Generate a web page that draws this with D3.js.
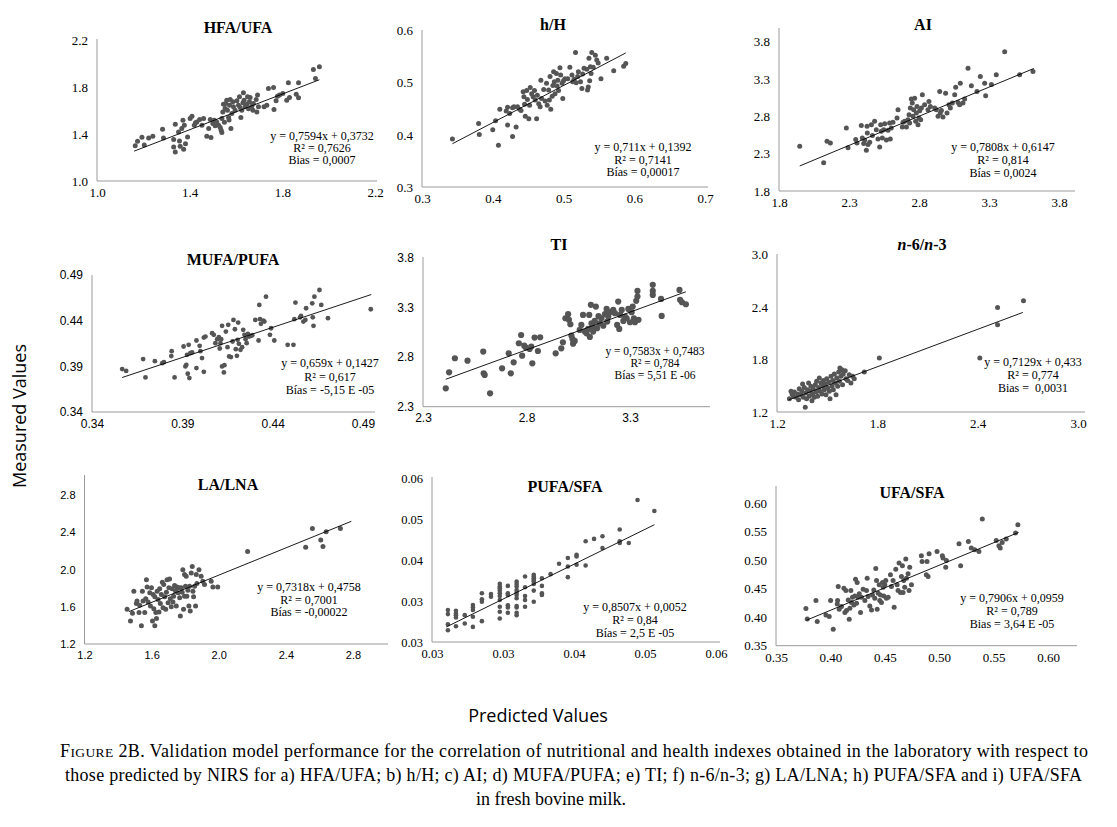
<!DOCTYPE html>
<html>
<head>
<meta charset="utf-8">
<script src="https://cdn.jsdelivr.net/npm/d3@7"></script>
<style>
  body { margin: 0; background: #fff; }
  text { fill: #000; }
</style>
</head>
<body>
<svg id="chart" width="1117" height="827"></svg>
<script>
// ---- data: [predicted, measured] ----
const hfaUfa = [[1.165,1.299],[1.175,1.338],[1.194,1.372],[1.204,1.307],[1.223,1.367],[1.241,1.381],[1.283,1.441],[1.287,1.367],
  [1.331,1.353],[1.331,1.29],[1.338,1.483],[1.338,1.247],[1.352,1.418],[1.356,1.341],[1.359,1.296],[1.366,1.446],[1.371,1.517],
  [1.374,1.27],[1.377,1.475],[1.382,1.318],[1.391,1.375],[1.402,1.532],[1.41,1.552],[1.42,1.475],[1.425,1.495],[1.431,1.503],
  [1.443,1.523],[1.453,1.475],[1.46,1.532],[1.474,1.381],[1.482,1.446],[1.492,1.37],[1.489,1.523],[1.5,1.489],[1.506,1.517],
  [1.517,1.503],[1.525,1.475],[1.532,1.455],[1.536,1.432],[1.539,1.412],[1.539,1.532],[1.543,1.588],[1.546,1.654],[1.553,1.617],
  [1.556,1.66],[1.56,1.688],[1.563,1.603],[1.568,1.54],[1.572,1.645],[1.575,1.694],[1.578,1.446],[1.582,1.574],[1.586,1.674],
  [1.589,1.631],[1.596,1.603],[1.604,1.682],[1.611,1.645],[1.615,1.717],[1.618,1.626],[1.621,1.54],[1.625,1.603],[1.63,1.665],
  [1.632,1.751],[1.635,1.688],[1.64,1.631],[1.647,1.654],[1.65,1.717],[1.654,1.614],[1.658,1.674],[1.661,1.711],[1.668,1.637],
  [1.673,1.603],[1.675,1.66],[1.687,1.694],[1.69,1.588],[1.693,1.731],[1.697,1.631],[1.721,1.631],[1.733,1.645],[1.74,1.788],
  [1.762,1.796],[1.764,1.608],[1.773,1.682],[1.779,1.722],[1.788,1.731],[1.802,1.745],[1.819,1.688],[1.826,1.836],[1.831,1.711],
  [1.86,1.739],[1.87,1.708],[1.87,1.836],[1.934,1.95],[1.943,1.873],[1.96,1.972],[1.51,1.47],[1.57,1.52],[1.55,1.5]];

const hH = [[0.343,0.392],[0.38,0.422],[0.381,0.401],[0.4,0.41],[0.404,0.427],[0.408,0.38],[0.41,0.449],[0.419,0.446],
  [0.421,0.453],[0.421,0.419],[0.424,0.441],[0.428,0.452],[0.428,0.397],[0.43,0.454],[0.433,0.415],[0.435,0.454],[0.438,0.449],
  [0.44,0.447],[0.443,0.483],[0.444,0.473],[0.445,0.459],[0.446,0.436],[0.448,0.485],[0.449,0.468],[0.451,0.431],[0.452,0.457],
  [0.453,0.491],[0.455,0.479],[0.457,0.473],[0.459,0.485],[0.46,0.467],[0.462,0.431],[0.463,0.476],[0.465,0.46],[0.467,0.454],
  [0.468,0.505],[0.469,0.47],[0.472,0.487],[0.474,0.465],[0.476,0.499],[0.477,0.457],[0.479,0.486],[0.48,0.467],[0.481,0.512],
  [0.482,0.449],[0.484,0.474],[0.485,0.495],[0.486,0.521],[0.487,0.502],[0.488,0.479],[0.49,0.518],[0.491,0.494],[0.492,0.505],
  [0.493,0.485],[0.495,0.529],[0.496,0.515],[0.498,0.499],[0.499,0.47],[0.5,0.504],[0.502,0.508],[0.506,0.508],[0.509,0.53],
  [0.512,0.515],[0.513,0.502],[0.515,0.507],[0.517,0.558],[0.518,0.5],[0.52,0.512],[0.521,0.521],[0.524,0.502],[0.526,0.489],
  [0.527,0.517],[0.529,0.528],[0.533,0.526],[0.534,0.486],[0.535,0.492],[0.536,0.547],[0.537,0.504],[0.538,0.531],[0.539,0.518],
  [0.54,0.558],[0.542,0.53],[0.545,0.553],[0.547,0.544],[0.549,0.538],[0.553,0.508],[0.561,0.547],[0.571,0.523],[0.585,0.532],
  [0.588,0.537]];

const ai = [[1.948,2.4],[2.119,2.178],[2.143,2.467],[2.167,2.444],[2.281,2.644],[2.293,2.378],[2.348,2.489],[2.357,2.444],
  [2.388,2.676],[2.395,2.511],[2.405,2.436],[2.412,2.482],[2.424,2.347],[2.429,2.667],[2.431,2.578],[2.436,2.422],[2.448,2.453],
  [2.46,2.689],[2.467,2.542],[2.483,2.733],[2.495,2.622],[2.507,2.498],[2.519,2.391],[2.526,2.689],[2.531,2.6],[2.538,2.511],
  [2.548,2.622],[2.555,2.702],[2.567,2.482],[2.579,2.613],[2.59,2.711],[2.595,2.498],[2.602,2.644],[2.614,2.72],[2.643,2.778],
  [2.65,2.889],[2.681,2.658],[2.686,2.72],[2.698,2.733],[2.71,2.658],[2.721,2.756],[2.729,2.822],[2.733,2.711],[2.738,2.911],
  [2.745,3.031],[2.752,2.978],[2.757,2.8],[2.762,2.889],[2.769,3.044],[2.776,2.733],[2.781,2.844],[2.786,2.933],[2.793,2.689],
  [2.8,2.778],[2.805,2.876],[2.812,2.756],[2.817,2.911],[2.824,3.089],[2.84,2.956],[2.864,2.889],[2.871,3.0],[2.881,2.933],
  [2.912,2.911],[2.924,2.889],[2.936,2.8],[2.948,3.133],[2.952,2.844],[2.96,2.88],[2.971,2.791],[2.99,3.111],[3.0,2.844],
  [3.014,2.956],[3.024,2.911],[3.038,2.978],[3.055,3.089],[3.062,3.191],[3.079,2.987],[3.09,2.956],[3.095,3.244],[3.114,2.978],
  [3.126,3.031],[3.15,3.444],[3.174,3.209],[3.214,3.133],[3.238,3.333],[3.269,3.244],[3.276,3.076],[3.317,3.227],[3.352,3.356],
  [3.412,3.667],[3.519,3.356],[3.614,3.4]];

const mufaPufa = [[0.3567,0.387],[0.3589,0.385],[0.3683,0.3979],[0.3696,0.3779],[0.3748,0.3957],[0.3789,0.3935],[0.3798,0.3946],
  [0.3839,0.4012],[0.3841,0.4066],[0.3857,0.3779],[0.3907,0.4117],[0.3917,0.3899],[0.3922,0.3917],[0.3926,0.4026],[0.393,0.3819],
  [0.3935,0.4135],[0.3939,0.3771],[0.3944,0.4044],[0.3954,0.4052],[0.3978,0.3881],[0.3978,0.4183],[0.3996,0.4124],[0.4,0.4066],
  [0.4009,0.399],[0.4019,0.384],[0.4019,0.4215],[0.4028,0.4226],[0.4065,0.4263],[0.4074,0.4245],[0.4083,0.4154],[0.4093,0.4197],
  [0.4102,0.4219],[0.4107,0.4095],[0.4111,0.4154],[0.4115,0.4197],[0.412,0.3899],[0.412,0.4343],[0.413,0.3833],[0.4133,0.3913],
  [0.4141,0.4281],[0.415,0.411],[0.4154,0.4354],[0.4159,0.4008],[0.4169,0.4001],[0.4178,0.4172],[0.4183,0.4408],[0.4191,0.4306],
  [0.4196,0.4088],[0.4202,0.4015],[0.4206,0.419],[0.4209,0.4379],[0.4213,0.4146],[0.4222,0.4081],[0.4231,0.411],[0.4237,0.43],
  [0.4244,0.4245],[0.425,0.4197],[0.4256,0.4154],[0.4263,0.4256],[0.4269,0.4226],[0.4281,0.4234],[0.4287,0.4241],[0.4304,0.4408],
  [0.4322,0.4183],[0.4326,0.4572],[0.433,0.4416],[0.4335,0.4365],[0.4348,0.4401],[0.4354,0.439],[0.4363,0.4663],[0.4385,0.4245],
  [0.4391,0.4317],[0.4409,0.4183],[0.4483,0.4135],[0.4515,0.4135],[0.452,0.4416],[0.4526,0.4598],[0.4552,0.4437],[0.4557,0.4452],
  [0.457,0.439],[0.4581,0.4408],[0.4585,0.4536],[0.4619,0.459],[0.4622,0.4437],[0.4626,0.4343],[0.4631,0.4663],[0.4659,0.4736],
  [0.4669,0.4572],[0.4706,0.4427],[0.4943,0.4525]];

const ti = [[2.41,2.485],[2.426,2.646],[2.454,2.787],[2.515,2.763],[2.591,2.854],[2.593,2.636],[2.598,2.619],[2.624,2.434],
  [2.682,2.686],[2.714,2.837],[2.724,2.636],[2.738,2.746],[2.763,2.938],[2.774,3.021],[2.779,2.813],[2.789,2.914],[2.797,2.894],
  [2.815,2.881],[2.823,2.904],[2.828,2.736],[2.839,2.995],[2.855,2.86],[2.866,2.998],[2.941,2.837],[2.968,2.887],[2.976,2.948],
  [2.988,3.189],[3.001,3.23],[3.005,3.173],[3.012,3.129],[3.017,3.015],[3.022,2.981],[3.025,2.934],[3.033,2.961],[3.057,3.072],
  [3.065,3.122],[3.073,3.223],[3.082,3.055],[3.09,3.038],[3.098,3.082],[3.103,3.223],[3.106,3.001],[3.111,3.324],[3.114,3.139],
  [3.119,3.105],[3.122,3.055],[3.13,3.162],[3.135,3.307],[3.141,3.089],[3.148,3.21],[3.154,3.139],[3.162,3.189],[3.171,3.115],
  [3.179,3.23],[3.187,3.283],[3.19,3.156],[3.195,3.206],[3.203,3.25],[3.219,3.273],[3.227,3.24],[3.238,3.122],[3.243,3.357],
  [3.248,3.082],[3.252,3.223],[3.26,3.273],[3.268,3.162],[3.276,3.206],[3.284,3.189],[3.292,3.283],[3.3,3.149],[3.308,3.25],
  [3.313,3.307],[3.319,3.189],[3.324,3.149],[3.33,3.364],[3.336,3.407],[3.341,3.173],[3.336,3.464],[3.41,3.525],[3.41,3.464],
  [3.41,3.424],[3.45,3.384],[3.453,3.213],[3.539,3.474],[3.542,3.374],[3.551,3.35],[3.57,3.33]];

const n6n3 = [[1.274,1.352],[1.284,1.436],[1.29,1.405],[1.298,1.379],[1.304,1.428],[1.314,1.367],[1.324,1.405],[1.329,1.341],
  [1.333,1.466],[1.343,1.398],[1.349,1.436],[1.353,1.519],[1.357,1.367],[1.363,1.481],[1.369,1.253],[1.373,1.417],[1.377,1.352],
  [1.383,1.455],[1.389,1.531],[1.393,1.379],[1.397,1.436],[1.403,1.493],[1.409,1.329],[1.413,1.405],[1.417,1.466],[1.423,1.367],
  [1.429,1.512],[1.433,1.428],[1.437,1.55],[1.443,1.379],[1.449,1.481],[1.453,1.588],[1.457,1.436],[1.463,1.531],[1.469,1.405],
  [1.473,1.493],[1.477,1.559],[1.483,1.455],[1.489,1.519],[1.493,1.398],[1.497,1.58],[1.503,1.474],[1.509,1.543],[1.513,1.436],
  [1.517,1.352],[1.523,1.607],[1.529,1.493],[1.533,1.559],[1.537,1.455],[1.543,1.633],[1.549,1.531],[1.553,1.398],[1.557,1.588],
  [1.563,1.493],[1.569,1.656],[1.573,1.55],[1.576,1.702],[1.582,1.607],[1.588,1.683],[1.592,1.512],[1.596,1.633],[1.608,1.671],
  [1.612,1.58],[1.622,1.559],[1.632,1.626],[1.642,1.531],[1.652,1.607],[1.662,1.58],[1.722,1.656],[1.812,1.816],[2.413,1.816],
  [2.519,2.394],[2.519,2.196],[2.674,2.47]];

const laLna = [[1.454,1.572],[1.474,1.448],[1.486,1.53],[1.494,1.767],[1.509,1.636],[1.513,1.661],[1.525,1.537],[1.529,1.615],
  [1.539,1.395],[1.545,1.767],[1.549,1.661],[1.559,1.537],[1.565,1.686],[1.569,1.891],[1.573,1.813],[1.579,1.65],[1.589,1.75],
  [1.593,1.608],[1.599,1.803],[1.605,1.448],[1.609,1.732],[1.613,1.579],[1.619,1.395],[1.619,1.707],[1.625,1.537],[1.629,1.473],
  [1.633,1.767],[1.638,1.679],[1.644,1.544],[1.648,1.792],[1.652,1.636],[1.658,1.732],[1.664,1.863],[1.668,1.59],[1.672,1.838],
  [1.678,1.707],[1.684,1.572],[1.688,1.757],[1.692,1.891],[1.698,1.643],[1.703,1.803],[1.707,1.899],[1.711,1.686],[1.717,1.601],
  [1.723,1.792],[1.727,1.65],[1.731,1.714],[1.737,1.828],[1.743,1.767],[1.747,1.608],[1.751,1.813],[1.757,1.75],[1.763,1.803],
  [1.767,1.696],[1.771,1.501],[1.777,1.803],[1.782,1.757],[1.786,1.998],[1.79,1.572],[1.796,1.714],[1.796,1.945],[1.802,1.821],
  [1.806,1.927],[1.81,1.714],[1.816,1.778],[1.822,1.608],[1.826,1.821],[1.83,1.555],[1.836,1.962],[1.842,2.033],[1.846,1.767],
  [1.85,1.707],[1.856,1.821],[1.862,1.608],[1.866,1.945],[1.87,1.849],[1.882,1.998],[1.895,1.927],[1.905,1.874],[1.915,1.838],
  [1.955,1.874],[1.965,1.813],[1.994,1.813],[2.172,2.193],[2.518,2.239],[2.558,2.441],[2.608,2.317],[2.621,2.246],[2.64,2.406],
  [2.725,2.441]];

const pufaSfa = [[0.02668,0.03084],[0.02668,0.0301],[0.02668,0.02826],[0.02668,0.02715],
  [0.02753,0.03071],[0.02753,0.03022],[0.02753,0.02991],[0.02753,0.02948],[0.02753,0.02789],
  [0.02846,0.02991],[0.02846,0.02838],
  [0.02932,0.03176],[0.02932,0.03133],[0.02932,0.03084],[0.02932,0.02961],[0.02932,0.02776],
  [0.03027,0.03391],[0.03027,0.0328],[0.03027,0.03237],[0.03027,0.02881],
  [0.03123,0.03378],[0.03123,0.03329],
  [0.03216,0.03563],[0.03216,0.03514],[0.03216,0.03483],[0.03216,0.0344],[0.03216,0.03391],[0.03216,0.03342],[0.03216,0.03268],
  [0.03216,0.03145],[0.03216,0.03053],[0.03216,0.0293],
  [0.03301,0.03526],[0.03301,0.03391],[0.03301,0.0336],[0.03301,0.0317],[0.03301,0.03133],[0.03301,0.03034],
  [0.03394,0.03606],[0.03394,0.03563],[0.03394,0.03514],[0.03394,0.03452],[0.03394,0.03403],[0.03394,0.0336],[0.03394,0.03299],
  [0.03394,0.03157],[0.03394,0.03133],[0.03394,0.03034],[0.03394,0.02991],
  [0.03483,0.03698],[0.03483,0.03501],[0.03483,0.03342],[0.03483,0.03268],[0.03483,0.03145],
  [0.03575,0.03729],[0.03575,0.03698],[0.03575,0.03667],[0.03575,0.03636],[0.03575,0.03606],[0.03575,0.03563],[0.03575,0.0344],
  [0.03575,0.03237],
  [0.03661,0.03667],[0.03661,0.03526],[0.03661,0.03391],[0.03661,0.0336],
  [0.03753,0.03741],[0.03842,0.03931],[0.03935,0.04036],[0.03935,0.03882],[0.03935,0.03686],[0.04027,0.04097],[0.04027,0.04066],
  [0.04027,0.03913],[0.04123,0.04343],[0.04123,0.039],[0.04212,0.04386],[0.04301,0.04435],[0.04301,0.0422],[0.04483,0.04558],
  [0.04483,0.04343],[0.04483,0.04312],[0.04579,0.04312],[0.04671,0.05098],[0.04849,0.04896]];

const ufaSfa = [[0.3775,0.4151],[0.3787,0.3969],[0.3867,0.4292],[0.3879,0.3923],[0.3959,0.404],[0.3989,0.4011],[0.4002,0.4292],
  [0.4026,0.3788],[0.4063,0.4234],[0.4066,0.4292],[0.4072,0.4539],[0.4081,0.414],[0.4102,0.4187],[0.4124,0.4509],[0.4133,0.4081],
  [0.4142,0.4468],[0.4148,0.4116],[0.4164,0.4304],[0.4173,0.3964],[0.4179,0.4157],[0.4188,0.4468],[0.4194,0.4257],[0.4203,0.4351],
  [0.4216,0.4216],[0.4225,0.4374],[0.4231,0.4668],[0.424,0.4245],[0.4246,0.4609],[0.4255,0.4351],[0.4265,0.441],[0.4277,0.4081],
  [0.4286,0.4351],[0.4301,0.4492],[0.4317,0.4292],[0.4332,0.4468],[0.4338,0.4685],[0.4347,0.4363],[0.4362,0.4198],[0.4378,0.4128],
  [0.4387,0.4392],[0.4399,0.448],[0.4408,0.4333],[0.4417,0.4856],[0.4424,0.4644],[0.443,0.414],[0.4439,0.4421],[0.4448,0.4568],
  [0.4454,0.4292],[0.446,0.4392],[0.4469,0.4257],[0.4479,0.4609],[0.4485,0.4527],[0.4491,0.4374],[0.45,0.4568],[0.4509,0.4644],
  [0.4515,0.4333],[0.4531,0.4351],[0.4552,0.4744],[0.4561,0.4539],[0.4576,0.4644],[0.4586,0.4175],[0.4601,0.4844],[0.4613,0.4568],
  [0.4622,0.4468],[0.4631,0.495],[0.4644,0.4433],[0.4653,0.4715],[0.4662,0.4903],[0.4668,0.4433],[0.4674,0.4644],[0.4683,0.4527],
  [0.4693,0.502],[0.4699,0.4685],[0.4714,0.4762],[0.4723,0.4468],[0.4729,0.4879],[0.4745,0.4568],[0.4836,0.5079],[0.4843,0.4979],
  [0.4882,0.4744],[0.4888,0.4979],[0.4898,0.4715],[0.4907,0.5114],[0.498,0.5155],[0.5029,0.5079],[0.5035,0.5038],[0.506,0.4879],
  [0.5066,0.4996],[0.5182,0.529],[0.5197,0.4903],[0.5268,0.5331],[0.5295,0.5214],[0.5326,0.5184],[0.5365,0.5155],[0.5396,0.5724],
  [0.5524,0.5349],[0.5549,0.5255],[0.5561,0.5214],[0.5579,0.5313],[0.5616,0.5372],[0.5702,0.5478],[0.5723,0.5624]];

// tick values / labels
const hfaUfaTicks = [1.0, 1.4, 1.8, 2.2];
const hHTicks = [0.3, 0.4, 0.5, 0.6, 0.7];
const hHYTicks = [0.3, 0.4, 0.5, 0.6];
const aiTicks = [1.8, 2.3, 2.8, 3.3, 3.8];
const mufaTicks = [0.34, 0.39, 0.44, 0.49];
const tiXTicks = [2.3, 2.8, 3.3];
const tiYTicks = [2.3, 2.8, 3.3, 3.8];
const n6n3Ticks = [1.2, 1.8, 2.4, 3.0];
const laLnaTicks = [1.2, 1.6, 2.0, 2.4, 2.8];
const pufaSfaTicks = [0.025, 0.0325, 0.04, 0.0475, 0.055];
const pufaSfaLabels = ["0.03", "0.03", "0.04", "0.05", "0.06"];
const ufaSfaTicks = [0.35, 0.40, 0.45, 0.50, 0.55, 0.60];

// regression lines [slope, intercept] and the x span they cover
const fits = [[0.7594,0.3732],[0.711,0.1392],[0.7808,0.6147],[0.659,0.1427],[0.7583,0.7483],[0.7129,0.433],[0.7318,0.4758],[0.8507,0.0052],[0.7906,0.0959]];
const fitSpans = [[1.16,1.96],[0.343,0.588],[1.948,3.62],[0.3567,0.4946],[2.41,3.57],[1.27,2.67],[1.465,2.79],[0.0265,0.0485],[0.378,0.573]];

const equations = [
  ["y = 0,7594x + 0,3732", "R² = 0,7626", "Bias = 0,0007"],
  ["y = 0,711x + 0,1392", "R² = 0,7141", "Bías = 0,00017"],
  ["y = 0,7808x + 0,6147", "R² = 0,814", "Bías = 0,0024"],
  ["y = 0,659x + 0,1427", "R² = 0,617", "Bías = -5,15 E -05"],
  ["y = 0,7583x + 0,7483", "R² = 0,784", "Bías = 5,51 E -06"],
  ["y = 0,7129x + 0,433", "R² = 0,774", "Bias =  0,0031"],
  ["y = 0,7318x + 0,4758", "R² = 0,7001", "Bías = -0,00022"],
  ["y = 0,8507x + 0,0052", "R² = 0,84", "Bías = 2,5 E -05"],
  ["y = 0,7906x + 0,0959", "R² = 0,789", "Bias = 3,64 E -05"]
];
const titles = ["HFA/UFA", "h/H", "AI", "MUFA/PUFA", "TI", "n-6/n-3", "LA/LNA", "PUFA/SFA", "UFA/SFA"];

const captionLines = [
  "Validation model performance for the correlation of nutritional and health indexes obtained in the laboratory with respect to",
  "those predicted by NIRS for a) HFA/UFA; b) h/H; c) AI; d) MUFA/PUFA; e) TI; f) n-6/n-3; g) LA/LNA; h) PUFA/SFA and i) UFA/SFA",
  "in fresh bovine milk."
];

// ---- layout (pixels) ----
const SERIF = "'Liberation Serif', 'Times New Roman', serif";
const SANS = "'Liberation Sans', Arial, sans-serif";

const panels = [
  { pts: hfaUfa, xt: hfaUfaTicks, yt: hfaUfaTicks, fmt: ".1f",
    px: [97, 375, 377], py: [181, 40, 39], title: [238, 33], eq: [322, 140, 12], font: SERIF, fs: 13, r: 2.5 },
  { pts: hH, xt: hHTicks, yt: hHYTicks, fmt: ".1f",
    px: [422, 705, 708], py: [187, 30.7, 30], title: [553, 30], eq: [643, 151, 12.5], font: SERIF, fs: 13, r: 2.5 },
  { pts: ai, xt: aiTicks, yt: aiTicks, fmt: ".1f",
    px: [779, 1059, 1075], py: [191, 41.7, 28], title: [923, 30], eq: [1003, 151, 13], font: SERIF, fs: 13, r: 2.5 },
  { pts: mufaPufa, xt: mufaTicks, yt: mufaTicks, fmt: ".2f",
    px: [92, 363, 375], py: [412, 275, 275], title: [233, 265], eq: [330, 367, 13.5], font: SANS, fs: 12, r: 2.4 },
  { pts: ti, xt: tiXTicks, yt: tiYTicks, fmt: ".1f",
    px: [423, 630, 710], py: [406.7, 257.5, 257], title: [559, 250], eq: [655, 355, 12], font: SANS, fs: 12, r: 3.1 },
  { pts: n6n3, xt: n6n3Ticks, yt: n6n3Ticks, fmt: ".1f",
    px: [777, 1078, 1085], py: [412, 254.3, 254], title: [922, 250], eq: [1033, 366, 13], font: SERIF, fs: 13, r: 2.5 },
  { pts: laLna, xt: laLnaTicks, yt: laLnaTicks, fmt: ".1f",
    px: [84.5, 353, 388], py: [644, 495, 475], title: [228, 490], eq: [309, 591, 12.5], font: SANS, fs: 11, r: 2.5 },
  { pts: pufaSfa, xt: pufaSfaTicks, yt: pufaSfaTicks, labels: pufaSfaLabels,
    px: [432, 716, 720], py: [642, 478, 477], title: [565, 492], eq: [635, 611, 13], font: SERIF, fs: 12.5, r: 2.3 },
  { pts: ufaSfa, xt: ufaSfaTicks, yt: ufaSfaTicks, fmt: ".2f",
    px: [776, 1048, 1077], py: [645.7, 503.3, 486], title: [912, 498], eq: [1012, 602, 13], font: SERIF, fs: 13, r: 2.5 }
];

const svg = d3.select("#chart");

panels.forEach((p, i) => {
  const g = svg.append("g");
  const xt = p.xt, yt = p.yt;
  const x = d3.scaleLinear().domain([xt[0], xt[xt.length - 1]]).range([p.px[0], p.px[1]]);
  const y = d3.scaleLinear().domain([yt[0], yt[yt.length - 1]]).range([p.py[0], p.py[1]]);
  const lab = (d, k) => p.labels ? p.labels[k] : d3.format(p.fmt)(d);

  // axes (Excel style: grey lines, no tick marks)
  const xa = g.append("g").attr("transform", `translate(0,${p.py[0]})`)
    .call(d3.axisBottom(x).tickValues(xt).tickFormat(lab).tickSize(0).tickPadding(7));
  const ya = g.append("g").attr("transform", `translate(${p.px[0]},0)`)
    .call(d3.axisLeft(y).tickValues(yt).tickFormat(lab).tickSize(0).tickPadding(9));
  [xa, ya].forEach(a => {
    a.attr("font-family", null).attr("font-size", null);
    a.select(".domain").remove();
    a.selectAll("text").style("font-family", p.font).style("font-size", p.fs + "px").attr("fill", "#000");
  });
  g.append("line").attr("x1", p.px[0]).attr("x2", p.px[2]).attr("y1", p.py[0]).attr("y2", p.py[0])
    .attr("stroke", "#9a9a9a").attr("stroke-width", 1);
  g.append("line").attr("x1", p.px[0]).attr("x2", p.px[0]).attr("y1", p.py[0]).attr("y2", p.py[2])
    .attr("stroke", "#9a9a9a").attr("stroke-width", 1);

  // points
  g.selectAll("circle").data(p.pts).enter().append("circle")
    .attr("cx", d => x(d[0])).attr("cy", d => y(d[1])).attr("r", p.r)
    .attr("fill", "#555555");

  // trend line
  const [m, b] = fits[i];
  const fl = d3.line().x(d => x(d)).y(d => y(m * d + b));
  g.append("path").attr("d", fl(fitSpans[i])).attr("stroke", "#000").attr("stroke-width", 0.9).attr("fill", "none");

  // title
  const t = g.append("text").attr("x", p.title[0]).attr("y", p.title[1]).attr("text-anchor", "middle")
    .style("font-family", SERIF).attr("font-weight", "bold").attr("font-size", 16);
  if (titles[i] === "n-6/n-3") {
    t.append("tspan").attr("font-style", "italic").text("n");
    t.append("tspan").text("-6/");
    t.append("tspan").attr("font-style", "italic").text("n");
    t.append("tspan").text("-3");
  } else {
    t.text(titles[i]);
  }

  // equation block
  equations[i].forEach((s, k) => {
    g.append("text").attr("x", p.eq[0]).attr("y", p.eq[1] + k * p.eq[2]).attr("text-anchor", "middle")
      .style("font-family", SERIF).attr("font-size", i === 4 ? 11.5 : 12).style("white-space", "pre").text(s);
  });
});

// axis titles
svg.append("text").attr("transform", "translate(26,416) rotate(-90)").attr("text-anchor", "middle")
  .style("font-family", "'Open Sans', sans-serif").attr("font-size", 18).text("Measured Values");
svg.append("text").attr("x", 538).attr("y", 722).attr("text-anchor", "middle")
  .style("font-family", "'Open Sans', sans-serif").attr("font-size", 18).text("Predicted Values");

// caption
const cap = svg.append("g").style("font-family", SERIF).attr("font-size", 18);
const c1 = cap.append("text").attr("x", 60).attr("y", 757).attr("textLength", 1028).attr("lengthAdjust", "spacing");
c1.append("tspan").text("F");
c1.append("tspan").attr("font-size", 13.5).text("IGURE");
c1.append("tspan").text(" 2B. " + captionLines[0]);
cap.append("text").attr("x", 65).attr("y", 781).attr("textLength", 1017).attr("lengthAdjust", "spacing").text(captionLines[1]);
cap.append("text").attr("x", 551).attr("y", 805).attr("text-anchor", "middle").text(captionLines[2]);
</script>
</body>
</html>
